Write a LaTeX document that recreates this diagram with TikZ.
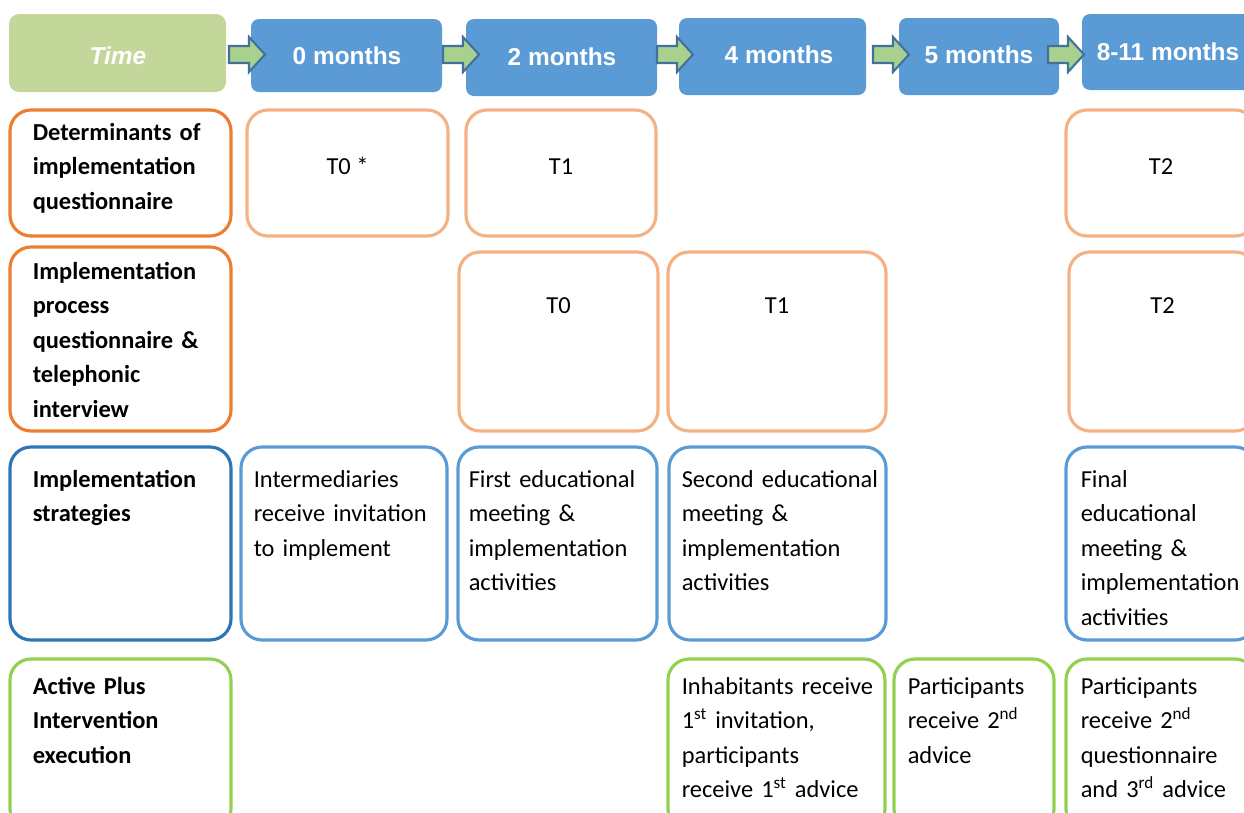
\documentclass[tikz,border=0pt]{standalone}
\usepackage{fontspec}
\setmainfont{Carlito}
\newfontfamily\hdrfont{Liberation Sans}
\usetikzlibrary{fit,calc}

\definecolor{hdrblue}{HTML}{5B9BD5}
\definecolor{timegreen}{HTML}{C4D79B}
\definecolor{arrowgreen}{HTML}{A9D18E}
\definecolor{arrowblue}{HTML}{41719C}
\definecolor{darkorange}{HTML}{ED7D31}
\definecolor{lightorange}{HTML}{F4B183}
\definecolor{darkblue}{HTML}{2E75B6}
\definecolor{lightblue}{HTML}{5B9BD5}
\definecolor{stepgreen}{HTML}{92D050}

\tikzset{
	hdr/.style={fill=hdrblue, rounded corners=0.16cm, inner sep=0pt},
	htxt/.style={inner sep=0pt, text=white, font=\hdrfont\fontsize{13.9}{16}\selectfont\bfseries},
	cellbox/.style={draw=#1, line width=1.8pt, rounded corners=0.42cm, inner sep=0pt},
	ltxt/.style={anchor=base west, inner sep=0pt, text width=5cm, align=left, font=\fontsize{13.9}{19.6}\selectfont\bfseries},
	ctxt/.style={anchor=base west, inner sep=0pt, text width=5cm, align=left, font=\fontsize{13.9}{19.6}\selectfont},
	mtxt/.style={anchor=base, inner sep=0pt, font=\fontsize{13.9}{19.6}\selectfont},
	garrow/.style={fill=arrowgreen, draw=arrowblue, line width=1.2pt, line join=miter}
}

\begin{document}
\begin{tikzpicture}[x=0.02cm, y=-0.02cm]
		\useasboundingbox (0,0) rectangle (1244,812);
		\clip (0,0) rectangle (1244,812);
		% time line
		\node (tm)[hdr, fill=timegreen, rounded corners=0.2cm, fit={(9,14) (226,92)}] {};
		\node (tmt)[htxt, font=\hdrfont\fontsize{13.9}{16}\selectfont\bfseries\itshape] at (118,56) {Time};
		\node (h0)[hdr, fit={(251,19) (442,92)}] {};
		\node (h0t)[htxt] at (347,56) {0 months};
		\node (h2)[hdr, fit={(466,19) (657,96)}] {};
		\node (h2t)[htxt] at (562,57) {2 months};
		\node (h4)[hdr, fit={(679,18) (866,95)}] {};
		\node (h4t)[htxt] at (779,55) {4 months};
		\node (h5)[hdr, fit={(899,18) (1059,95)}] {};
		\node (h5t)[htxt] at (979,55) {5 months};
		\node (h8)[hdr, fit={(1082,14) (1254,90)}] {};
		\node (h8t)[htxt] at (1168,52) {8-11 months};
		\foreach \x in {229,443,657,873,1048}
			\draw [garrow](\x,46) -- ++(20,0) -- ++(0,-9) -- ++(16,17.5) -- ++(-16,17.5) -- ++(0,-9) -- ++(-20,0) -- cycle;

		% determinants questionnaire
		\node (dq)[cellbox=darkorange, fit={(10,110) (231,236)}] {};
		\node (dqt)[ltxt] at ($(dq.north west)+(24,32)$) {Determinants of\\implementation\\questionnaire};
		\node (d0)[cellbox=lightorange, fit={(247,110) (448,236)}] {};
		\node (d0t)[mtxt] at ($(d0.north)+(0,66)$) {T0 *};
		\node (d1)[cellbox=lightorange, fit={(466,110) (656,236)}] {};
		\node (d1t)[mtxt] at ($(d1.north)+(0,66)$) {T1};
		\node (d2)[cellbox=lightorange, fit={(1066,110) (1256,236)}] {};
		\node (d2t)[mtxt] at ($(d2.north)+(0,66)$) {T2};

		% process questionnaire
		\node (pq)[cellbox=darkorange, fit={(10,247) (231,431)}] {};
		\node (pqt)[ltxt] at ($(pq.north west)+(24,34)$) {Implementation\\process\\questionnaire \&\\telephonic\\interview};
		\node (p0)[cellbox=lightorange, fit={(459,252) (658,431)}] {};
		\node (p0t)[mtxt] at ($(p0.north)+(0,63)$) {T0};
		\node (p1)[cellbox=lightorange, fit={(668,252) (886,431)}] {};
		\node (p1t)[mtxt] at ($(p1.north)+(0,63)$) {T1};
		\node (p2)[cellbox=lightorange, fit={(1069,252) (1256,431)}] {};
		\node (p2t)[mtxt] at ($(p2.north)+(0,63)$) {T2};

		% strategies
		\node (is)[cellbox=darkblue, fit={(10,447) (231,640)}] {};
		\node (ist)[ltxt] at ($(is.north west)+(24,42)$) {Implementation\\strategies};
		\node (s0)[cellbox=lightblue, fit={(241,447) (447,640)}] {};
		\node (s0t)[ctxt] at ($(s0.north west)+(14,42)$) {Intermediaries\\receive invitation\\to implement};
		\node (s1)[cellbox=lightblue, fit={(458,447) (657,640)}] {};
		\node (s1t)[ctxt] at ($(s1.north west)+(12,42)$) {First educational\\meeting \&\\implementation\\activities};
		\node (s2)[cellbox=lightblue, fit={(669,447) (886,640)}] {};
		\node (s2t)[ctxt] at ($(s2.north west)+(14,42)$) {Second educational\\meeting \&\\implementation\\activities};
		\node (s3)[cellbox=lightblue, fit={(1066,447) (1256,640)}] {};
		\node (s3t)[ctxt] at ($(s3.north west)+(16,42)$) {Final\\educational\\meeting \&\\implementation\\activities};

		% intervention
		\node (ap)[cellbox=stepgreen, fit={(10,659) (231,830)}] {};
		\node (apt)[ltxt] at ($(ap.north west)+(24,37)$) {Active Plus\\Intervention\\execution};
		\node (a1)[cellbox=stepgreen, fit={(668,659) (885,830)}] {};
		\node (a1t)[ctxt] at ($(a1.north west)+(15,37)$) {Inhabitants receive\\1\textsuperscript{st} invitation,\\participants\\receive 1\textsuperscript{st} advice};
		\node (a2)[cellbox=stepgreen, fit={(894,659) (1054,830)}] {};
		\node (a2t)[ctxt] at ($(a2.north west)+(15,37)$) {Participants\\receive 2\textsuperscript{nd}\\advice};
		\node (a3)[cellbox=stepgreen, fit={(1066,659) (1256,830)}] {};
		\node (a3t)[ctxt] at ($(a3.north west)+(16,37)$) {Participants\\receive 2\textsuperscript{nd}\\questionnaire\\and 3\textsuperscript{rd} advice};
	\end{tikzpicture}
\end{document}
